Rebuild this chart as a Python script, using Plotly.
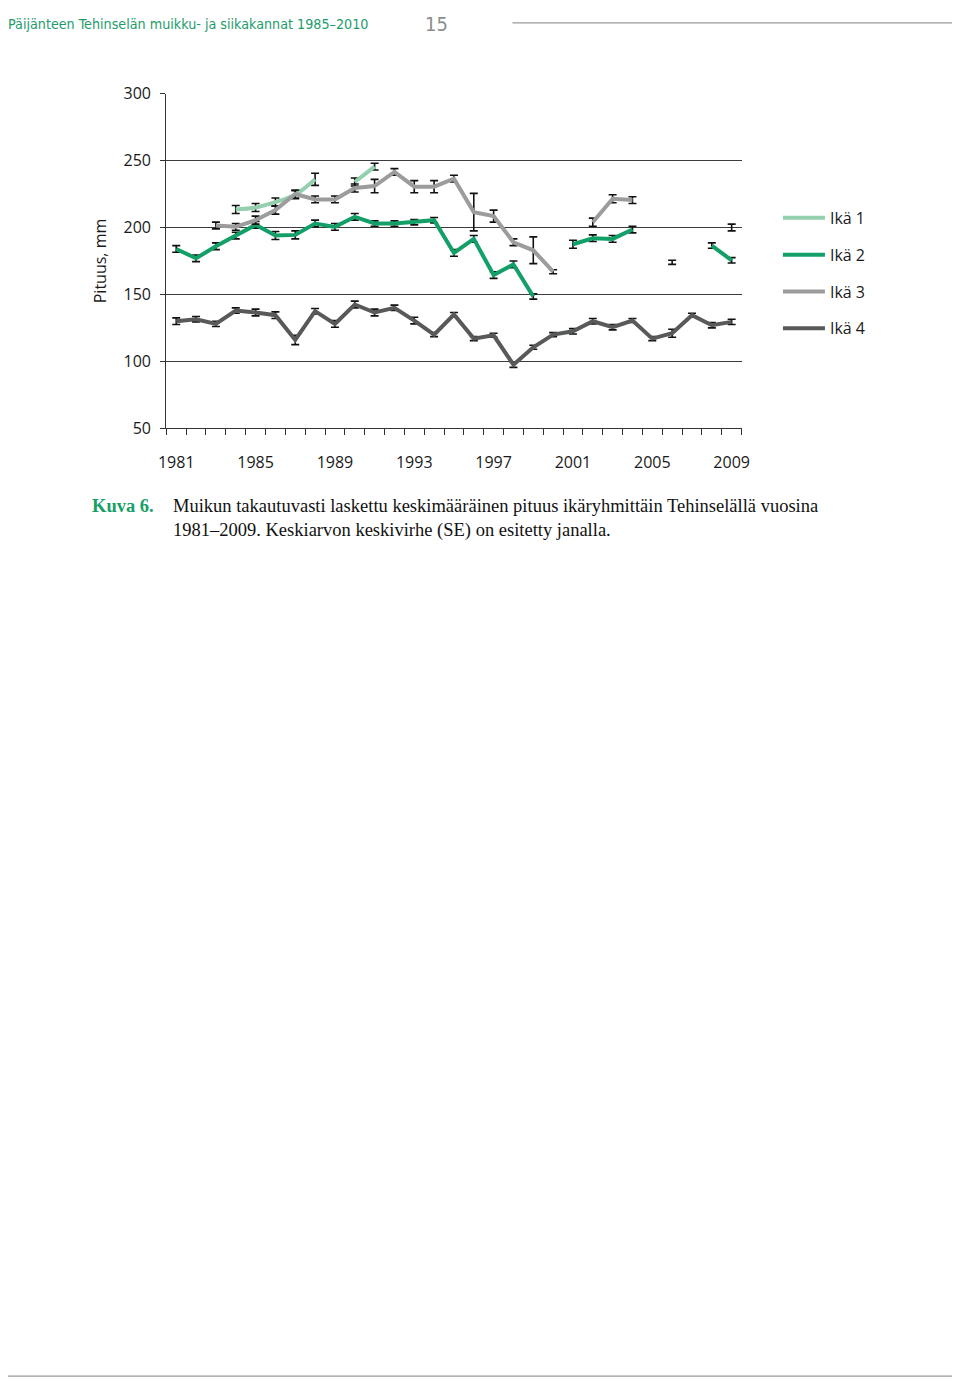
import plotly.graph_objects as go

W, H = 960, 1392

years = list(range(1981, 2010))

ika1 = [None, None, None, 213.5, 215, 219, 224.5, 236, None, 234, 245.5,
        None, None, None, None, None, None, None, None, None, None, None,
        None, None, None, None, None, None, None]
ika1_se = [0, 0, 0, 3, 3, 3, 3, 4.5, 0, 3, 2.5,
           0, 0, 0, 0, 0, 0, 0, 0, 0, 0, 0, 0, 0, 0, 0, 0, 0, 0]

ika2 = [184, 177, 186, 194, 202, 194, 194.5, 203, 200.5, 208, 203, 203, 204, 205.5,
        181, 191.5, 164.5, 172.5, 148.5, None, 187.5, 192, 191.5, 198.5, None,
        174, None, 186.5, 175.5]
ika2_se = [2.5, 2.5, 2.5, 2.5, 2.5, 3, 3, 2.5, 2.5, 2.5, 2, 2, 2, 2,
           2.5, 2.5, 2.5, 2.5, 2, 0, 3, 2.5, 2.5, 2.5, 0, 1.5, 0, 2, 2]

ika3 = [None, None, 201.5, 200.5, 205.5, 213, 225, 221, 221, 229.5, 231, 241.5,
        230.5, 230.5, 236.5, 211.5, 208.5, 189, 183, 167, None, 204, 221.5, 220.5,
        None, None, None, None, 200]
ika3_se = [0, 0, 2.5, 2.5, 3, 3, 3, 2.5, 2.5, 3, 5, 2.5, 4.5, 4.5, 2.5, 14, 4.5,
           2.5, 10, 1.5, 0, 3, 3, 2.5, 0, 0, 0, 0, 2.5]

ika4 = [130, 131.5, 128, 138, 136.5, 134.5, 116, 137.5, 128, 142.5, 136.5, 140,
        130.5, 120, 135, 117, 119.5, 97.5, 110.5, 120, 122.5, 130, 125.5, 130.5,
        117, 121, 134.5, 127, 129.5]
ika4_se = [2.5, 2, 2, 2, 2.5, 2.5, 3.5, 2, 2.5, 2.5, 2.5, 2, 2.5, 1.5, 1.5, 1.5,
           1.5, 2, 1.5, 1.5, 2, 2, 2, 1.5, 1.5, 3, 1.5, 2, 2]

series = [
    ("Ikä 1", ika1, ika1_se, "#94cfae", "spline"),
    ("Ikä 2", ika2, ika2_se, "#12a068", "linear"),
    ("Ikä 3", ika3, ika3_se, "#9c9c9e", "linear"),
    ("Ikä 4", ika4, ika4_se, "#58595b", "linear"),
]

label_years = [1981, 1985, 1989, 1993, 1997, 2001, 2005, 2009]
y_ticks = [50, 100, 150, 200, 250, 300]

fig = go.Figure()
for i, (name, vals, se, col, shape) in enumerate(series):
    fig.add_trace(go.Scatter(
        x=years, y=vals, name=name, mode="lines",
        line=dict(color=col, width=4, shape=shape),
        error_y=dict(type="data", array=se, visible=True, color="#111111",
                     thickness=1.6, width=4),
        legendgroup=f"g{i}",
    ))

def px_x(p):
    return p / W

def px_y(p):
    return 1 - p / H

fig.update_layout(
    width=W, height=H,
    margin=dict(l=0, r=0, t=0, b=0),
    paper_bgcolor="white", plot_bgcolor="white",
    font=dict(family="Open Sans, DejaVu Sans, sans-serif", size=16, color="#1a1a1a"),
    showlegend=True,
    legend=dict(x=px_x(783), y=px_y(193), xanchor="left", yanchor="top",
                font=dict(size=16, color="#1a1a1a"), tracegroupgap=13,
                bgcolor="rgba(0,0,0,0)", itemwidth=42),
    xaxis=dict(
        domain=[px_x(161), px_x(746)],
        range=[1980.5, 2009.5],
        tickmode="array", tickvals=label_years,
        ticktext=[str(y) for y in label_years],
        ticks="", ticklabelstandoff=19,
        showgrid=False, zeroline=False,
        showline=True, linecolor="#333333", linewidth=1.3,
        tickfont=dict(size=16),
        minor=dict(ticks="outside", tick0=1980.5, dtick=1, ticklen=6,
                   tickcolor="#333333", tickwidth=1.3, showgrid=False),
    ),
    yaxis=dict(
        domain=[px_y(424), px_y(84)],
        range=[50, 300],
        tickmode="array", tickvals=y_ticks,
        ticks="outside", ticklen=5, tickcolor="#333333", tickwidth=1.3,
        ticklabelstandoff=6,
        showgrid=True, gridcolor="#3c3c3c", gridwidth=1.3,
        zeroline=False, showline=True, linecolor="#333333", linewidth=1.3,
        tickfont=dict(size=16),
        title=dict(text="Pituus, mm", font=dict(size=16), standoff=12),
    ),
)

fig.add_annotation(xref="paper", yref="paper", x=px_x(-2), y=px_y(13),
                   xanchor="left", yanchor="middle", showarrow=False,
                   text="Päijänteen Tehinselän muikku- ja siikakannat 1985–2010",
                   font=dict(family="DejaVu Sans Condensed, Open Sans, sans-serif",
                             size=14.2, color="#1e9c6b"))
fig.add_annotation(xref="paper", yref="paper", x=px_x(436), y=px_y(13),
                   xanchor="center", yanchor="middle", showarrow=False,
                   text="15",
                   font=dict(family="DejaVu Sans Condensed, Open Sans, sans-serif",
                             size=20, color="#8c8c8c"))
fig.add_shape(type="line", xref="paper", yref="paper",
              x0=px_x(513), x1=1, y0=px_y(12), y1=px_y(12),
              line=dict(color="#9a9a9a", width=1.2))
fig.add_shape(type="line", xref="paper", yref="paper",
              x0=0, x1=1, y0=px_y(1387), y1=px_y(1387),
              line=dict(color="#9a9a9a", width=1.2))

fig.add_annotation(xref="paper", yref="paper", x=px_x(83), y=px_y(503),
                   xanchor="left", yanchor="middle", showarrow=False,
                   text="<b>Kuva 6.</b>",
                   font=dict(family="Liberation Serif, serif", size=18.5, color="#16a068"))
fig.add_annotation(xref="paper", yref="paper", x=px_x(166), y=px_y(503),
                   xanchor="left", yanchor="middle", showarrow=False,
                   text="Muikun takautuvasti laskettu keskimääräinen pituus ikäryhmittäin Tehinselällä vuosina",
                   font=dict(family="Liberation Serif, serif", size=18.5, color="#111111"))
fig.add_annotation(xref="paper", yref="paper", x=px_x(166), y=px_y(528),
                   xanchor="left", yanchor="middle", showarrow=False,
                   text="1981–2009. Keskiarvon keskivirhe (SE) on esitetty janalla.",
                   font=dict(family="Liberation Serif, serif", size=18.5, color="#111111"))

fig.write_html("out.html", config={"displayModeBar": False},
               post_script="document.body.style.margin='0';document.body.style.overflow='hidden';")
